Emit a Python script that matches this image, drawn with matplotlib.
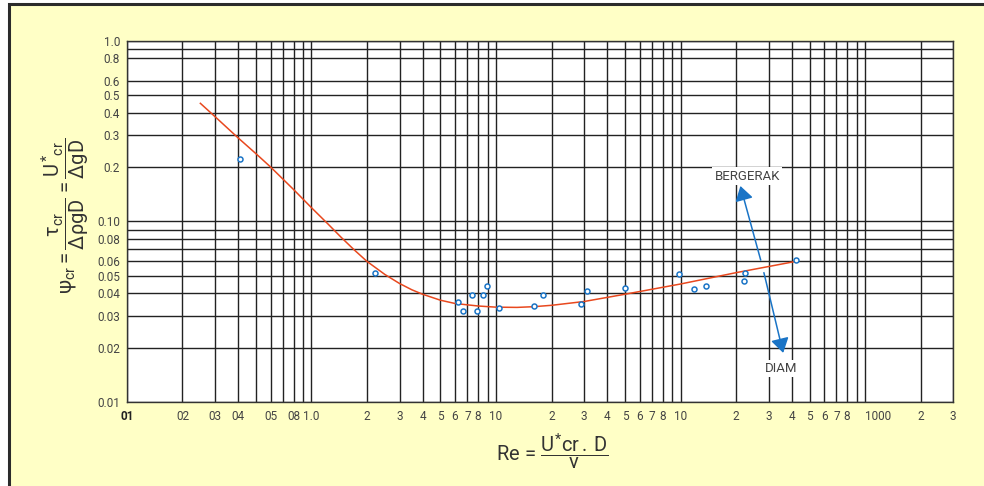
import matplotlib.pyplot as plt
from matplotlib.patches import Rectangle

plt.rcParams['font.family'] = ['Roboto', 'DejaVu Sans']
plt.rcParams['mathtext.fontset'] = 'custom'
plt.rcParams['mathtext.rm'] = 'Roboto'
plt.rcParams['mathtext.it'] = 'Roboto'
plt.rcParams['mathtext.bf'] = 'Roboto:bold'

## Data
# critical curve (Shields)
curve_re = [0.25, 0.3, 0.4, 0.5, 0.6, 0.8, 1.0, 1.23, 1.45, 1.7, 2, 2.5, 3, 3.5,
            4, 5, 6, 8, 10, 13, 16, 20, 30, 50, 100, 200, 420]
curve_psi = [0.45, 0.38, 0.29, 0.237, 0.20, 0.150, 0.119, 0.0966, 0.0815, 0.0697,
             0.060, 0.0508, 0.0453, 0.0418, 0.0395, 0.0366, 0.0351, 0.0340, 0.0335,
             0.0334, 0.0337, 0.0343, 0.036, 0.0395, 0.045, 0.052, 0.060]

# measured points
obs_re = [0.41, 2.2, 6.2, 6.6, 7.4, 7.9, 8.5, 8.9, 10.4, 16, 18, 29, 31, 50,
          98, 118, 138, 224, 220, 420]
obs_psi = [0.222, 0.052, 0.036, 0.032, 0.039, 0.032, 0.039, 0.044, 0.033, 0.034,
           0.039, 0.035, 0.041, 0.043, 0.051, 0.042, 0.044, 0.052, 0.047, 0.061]

# axis ticks
xtick_vals = [0.1, 0.2, 0.3, 0.4, 0.6, 0.8, 1, 2, 3, 4, 5, 6, 7, 8, 10,
              20, 30, 40, 50, 60, 70, 80, 100, 200, 300, 400, 500, 600, 700, 800,
              1000, 2000, 3000]
xtick_labels = ['01', '02', '03', '04', '05', '08', '1.0', '2', '3', '4', '5', '6',
                '7', '8', '10', '2', '3', '4', '5', '6', '7', '8', '10', '2', '3',
                '4', '5', '6', '7', '8', '1000', '2', '3']
ytick_vals = [1.0, 0.8, 0.6, 0.5, 0.4, 0.3, 0.2, 0.1, 0.08, 0.06, 0.05, 0.04,
              0.03, 0.02, 0.01]
ytick_labels = ['1.0', '0.8', '0.6', '0.5', '0.4', '0.3', '0.2', '0.10', '0.08',
                '0.06', '0.05', '0.04', '0.03', '0.02', '0.01']

# grid lines
xgrid = [k * 10.0**n for n in range(-1, 3) for k in range(1, 10)] + [1000, 2000, 3000]
ygrid = [0.01, 0.02, 0.03, 0.04, 0.05, 0.06, 0.07, 0.08, 0.09,
         0.1, 0.2, 0.3, 0.4, 0.5, 0.6, 0.8, 0.9, 1.0]

# arrow (up: bergerak, down: diam)
arrow_up = [(272, 0.061), (211, 0.157)]
arrow_down = [(283, 0.052), (360, 0.0187)]

BLUE = '#1a74c6'
RED = '#e8481e'
TXT = '#444444'

fig = plt.figure(figsize=(9.84, 4.86), dpi=100)
fig.patch.set_facecolor('white')
fig.patches.append(Rectangle((8.5 / 984, -0.05), 1.1, 1 - 4.0 / 486 + 0.05,
                             transform=fig.transFigure, facecolor='#FFFFC6',
                             edgecolor='#2b2b2b', lw=2.2, zorder=-10))

ax = fig.add_axes([0.129, 0.1728, 0.8396, 0.7435])
ax.set_xscale('log')
ax.set_yscale('log')
ax.set_xlim(0.1, 3000)
ax.set_ylim(0.01, 1.0)
ax.set_facecolor('white')

for x in xgrid:
    ax.axvline(x, color='#222222', lw=1.0, zorder=1)
for y in ygrid:
    ax.axhline(y, color='#222222', lw=1.0, zorder=1)

ax.plot(curve_re, curve_psi, color=RED, lw=1.1, zorder=3)
ax.plot(obs_re, obs_psi, 'o', ms=3.6, mfc='white', mec=BLUE, mew=1.1, zorder=4)

astyle = dict(arrowstyle='-|>,head_length=0.8,head_width=0.5', color=BLUE,
              lw=1.1, mutation_scale=11, shrinkA=0, shrinkB=0)
ax.annotate('', xy=arrow_up[1], xytext=arrow_up[0], arrowprops=astyle, zorder=5)
ax.annotate('', xy=arrow_down[1], xytext=arrow_down[0], arrowprops=astyle, zorder=5)

box = dict(facecolor='white', edgecolor='none', pad=1.5)
ax.text(230, 0.178, 'BERGERAK', ha='center', va='center', fontsize=9.5,
        color=TXT, bbox=box, zorder=6)
ax.text(351, 0.0153, 'DIAM', ha='center', va='center', fontsize=9.5,
        color=TXT, bbox=box, zorder=6)

ax.set_xticks(xtick_vals)
ax.set_xticklabels(xtick_labels)
ax.set_yticks(ytick_vals)
ax.set_yticklabels(ytick_labels)
ax.minorticks_off()
ax.tick_params(axis='both', length=0, labelsize=8.5, labelcolor=TXT)
ax.tick_params(axis='x', pad=6)
ax.tick_params(axis='y', pad=5)
xl = ax.get_xticklabels()
xl[0].set_fontweight('bold')
xl[0].set_color('#222222')
xl[30].set_ha('left')

for s in ax.spines.values():
    s.set_color('#333333')
    s.set_linewidth(1.0)
    s.set_zorder(2)

fig.text(0.066, 0.556,
         r'$\psi_{cr} = \dfrac{\tau_{cr}}{\Delta\rho g D} = \dfrac{U^{*}{}_{cr}}{\Delta g D}$',
         rotation=90, ha='center', va='center', fontsize=14.5, color='#333333')
fig.text(0.561, 0.071, r'Re = $\dfrac{U^{*}\mathrm{cr}\,.\,D}{\nu}$',
         ha='center', va='center', fontsize=14.5, color='#333333')

fig.savefig('out.png', dpi=100)
